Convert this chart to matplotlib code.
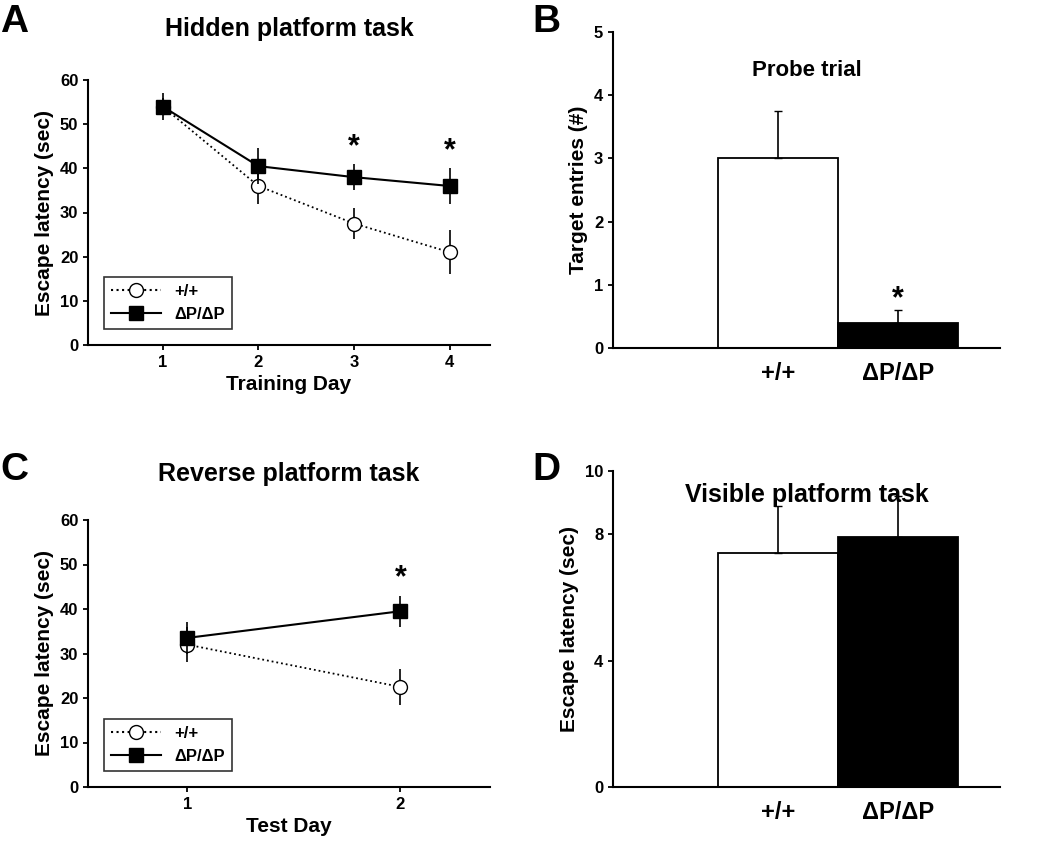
import matplotlib
matplotlib.use("Agg")
import matplotlib.pyplot as plt
from matplotlib.lines import Line2D

plt.rcParams["font.family"] = "Liberation Sans"
plt.rcParams["font.weight"] = "bold"

days_a = [1, 2, 3, 4]
wt_a = [54, 36, 27.5, 21]
wt_a_err = [2, 4, 3.5, 5]
mut_a = [54, 40.5, 38, 36]
mut_a_err = [3, 4, 3, 4]
sig_a = [3, 4]

groups = ["+/+", "ΔP/ΔP"]
probe = [3.0, 0.4]
probe_err = [0.75, 0.2]

days_c = [1, 2]
wt_c = [32, 22.5]
wt_c_err = [4, 4]
mut_c = [33.5, 39.5]
mut_c_err = [3.5, 3.5]

visible = [7.4, 7.9]
visible_err = [1.5, 1.3]

fig = plt.figure(figsize=(10.5, 8.44), dpi=100)
W, H = 1050, 844
def ax_px(l, t, r, b):
    return fig.add_axes([l / W, 1 - b / H, (r - l) / W, (b - t) / H])

def style(ax):
    for s in ["top", "right"]:
        ax.spines[s].set_visible(False)
    for s in ["left", "bottom"]:
        ax.spines[s].set_linewidth(1.5)
    ax.tick_params(width=1.3, labelsize=12)
    for t in ax.get_xticklabels() + ax.get_yticklabels():
        t.set_fontweight("bold")

def line_panel(ax, days, wt, wte, mut, mute, xlim, xlabel):
    ax.errorbar(days, wt, yerr=wte, fmt="o", ls=":", color="black", mfc="white",
                mec="black", ms=10, capsize=0, lw=1.3, elinewidth=1.2, zorder=3)
    ax.errorbar(days, mut, yerr=mute, fmt="s", ls="-", color="black", ms=10,
                capsize=0, lw=1.5, elinewidth=1.2, zorder=4)
    ax.set_xlim(*xlim)
    ax.set_ylim(0, 60)
    ax.set_xticks(days)
    ax.set_yticks(range(0, 61, 10))
    ax.set_ylabel("Escape latency (sec)", fontsize=15, fontweight="bold")
    ax.set_xlabel(xlabel, fontsize=15, fontweight="bold")
    style(ax)
    h = [Line2D([], [], ls=":", color="black", marker="o", mfc="white", ms=10),
         Line2D([], [], ls="-", color="black", marker="s", ms=10)]
    leg = ax.legend(h, ["+/+", "ΔP/ΔP"], loc="lower left", fancybox=False,
                    edgecolor="black", fontsize=12, handlelength=3,
                    bbox_to_anchor=(0.02, 0.03))
    leg.get_frame().set_linewidth(1.2)

# A
axA = ax_px(88, 80, 490, 345)
line_panel(axA, days_a, wt_a, wt_a_err, mut_a, mut_a_err, (0.22, 4.42), "Training Day")
for d in sig_a:
    i = days_a.index(d)
    axA.text(d, mut_a[i] + mut_a_err[i] + 2, "*", ha="center", fontsize=22, fontweight="bold")
axA.set_title("Hidden platform task", fontsize=18, fontweight="bold", pad=32)

# C
axC = ax_px(88, 520, 490, 787)
line_panel(axC, days_c, wt_c, wt_c_err, mut_c, mut_c_err, (0.535, 2.42), "Test Day")
axC.text(2, mut_c[1] + mut_c_err[1] + 2, "*", ha="center", fontsize=22, fontweight="bold")
axC.set_title("Reverse platform task", fontsize=18, fontweight="bold", pad=28)

def bar_panel(ax, vals, errs, ylim, yticks, ylabel):
    xs = [0, 0.93]
    ax.bar(xs, vals, width=0.93, color=["white", "black"], edgecolor="black", lw=1.3)
    ax.errorbar(xs, vals, yerr=[[0, 0], errs], fmt="none", ecolor="black", capsize=3, elinewidth=1.2)
    ax.set_xlim(-1.28, 1.72)
    ax.set_ylim(*ylim)
    ax.set_yticks(yticks)
    ax.set_xticks(xs)
    ax.set_xticklabels(groups, fontsize=17, fontweight="bold")
    ax.set_ylabel(ylabel, fontsize=15, fontweight="bold")
    style(ax)
    ax.tick_params(axis="x", length=0, pad=10, labelsize=17)

axB = ax_px(613, 32, 1000, 348)
bar_panel(axB, probe, probe_err, (0, 5), range(0, 6), "Target entries (#)")
axB.text(0.93, probe[1] + probe_err[1] + 0.05, "*", ha="center", fontsize=22, fontweight="bold")
axB.set_title("Probe trial", fontsize=16, fontweight="bold", pad=-32, y=1.0)

axD = ax_px(613, 471, 1000, 787)
bar_panel(axD, visible, visible_err, (0, 10), [0, 4, 8, 10], "Escape latency (sec)")
axD.set_title("Visible platform task", fontsize=18, fontweight="bold", pad=-22, y=1.0)

for lbl, x, y in [("A", 0, 22), ("B", 532, 22), ("C", 0, 470), ("D", 532, 470)]:
    fig.text(x / W, 1 - y / H, lbl, fontsize=28, fontweight="bold", va="center", ha="left")

fig.savefig("out.png", dpi=100)
